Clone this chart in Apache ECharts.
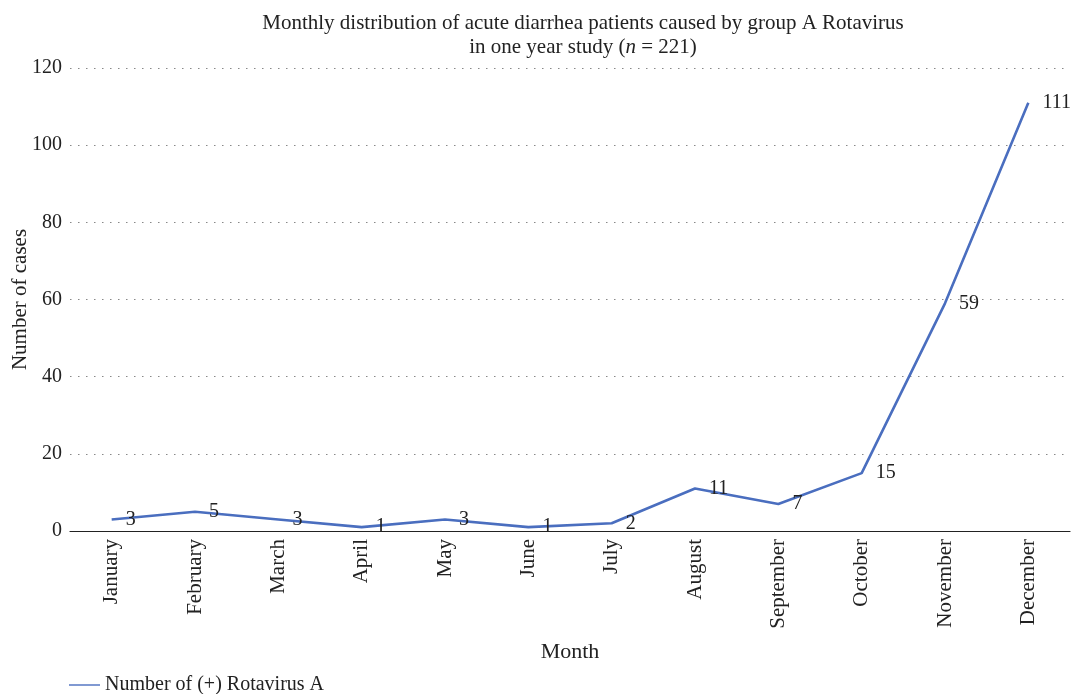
<!DOCTYPE html>
<html>
<head>
<meta charset="utf-8">
<script src="https://cdn.jsdelivr.net/npm/echarts@6/dist/echarts.min.js"></script>
<style>
  html, body { margin: 0; padding: 0; background: #fff; }
  #chart { width: 1073px; height: 694px; }
</style>
</head>
<body>
<div id="chart"></div>
<script>
var months = ['January', 'February', 'March', 'April', 'May', 'June', 'July', 'August', 'September', 'October', 'November', 'December'];
var rotaCases = [3, 5, 3, 1, 3, 1, 2, 11, 7, 15, 59, 111];
var seriesName = 'Number of (+) Rotavirus A';

var font = 'Liberation Serif';
var myChart = echarts.init(document.getElementById('chart'), null, { renderer: 'canvas' });
var option = {
	textStyle: { fontFamily: font },
	title: {
		text: 'Monthly distribution of acute diarrhea patients caused by group A Rotavirus\nin one year study ({i|n} = 221)',
		left: 578,
		top: 6,
		textAlign: 'center',
		textStyle: {
			fontFamily: font,
			fontSize: 21,
			fontWeight: 'normal',
			color: '#222',
			lineHeight: 24,
			align: 'center',
			rich: {
				i: { fontFamily: font, fontSize: 21, fontStyle: 'italic', color: '#222' }
			}
		}
	},
	legend: {
		data: [seriesName],
		left: 69,
		top: 675,
		icon: 'rect',
		itemWidth: 31,
		itemHeight: 1.4,
		itemGap: 8,
		padding: 0,
		itemStyle: { color: '#4a6ebf' },
		textStyle: { fontFamily: font, fontSize: 20, color: '#222' }
	},
	grid: {
		left: 70,
		right: 3,
		top: 68,
		bottom: 163,
		containLabel: false,
		outerBoundsMode: 'none'
	},
	xAxis: {
		type: 'category',
		data: months,
		boundaryGap: true,
		name: 'Month',
		nameLocation: 'middle',
		nameGap: 110,
		nameMoveOverlap: false,
		nameTextStyle: { fontFamily: font, fontSize: 22, color: '#222' },
		axisLine: { show: true, lineStyle: { color: '#222', width: 1.2 } },
		axisTick: { show: false },
		axisLabel: {
			rotate: 90,
			margin: 8,
			fontFamily: font,
			fontSize: 21,
			color: '#222'
		}
	},
	yAxis: {
		type: 'value',
		min: 0,
		max: 120,
		interval: 20,
		name: 'Number of cases',
		nameLocation: 'middle',
		nameGap: 39,
		nameMoveOverlap: false,
		nameTextStyle: { fontFamily: font, fontSize: 21, color: '#222' },
		axisLine: { show: false },
		axisTick: { show: false },
		axisLabel: { margin: 8, fontFamily: font, fontSize: 20, color: '#222' },
		splitLine: {
			show: true,
			lineStyle: { color: '#888', type: [1.5, 6.5], width: 1.2 }
		}
	},
	series: [
		{
			name: seriesName,
			type: 'line',
			data: rotaCases,
			symbol: 'circle',
			symbolSize: 0.1,
			showSymbol: true,
			lineStyle: { color: '#4a6ebf', width: 2.6 },
			itemStyle: { color: '#4a6ebf' },
			label: {
				show: true,
				position: 'right',
				distance: 14,
				offset: [0, 0],
				fontFamily: font,
				fontSize: 20,
				color: '#222'
			}
		}
	]
};
option && myChart.setOption(option);
</script>
</body>
</html>
